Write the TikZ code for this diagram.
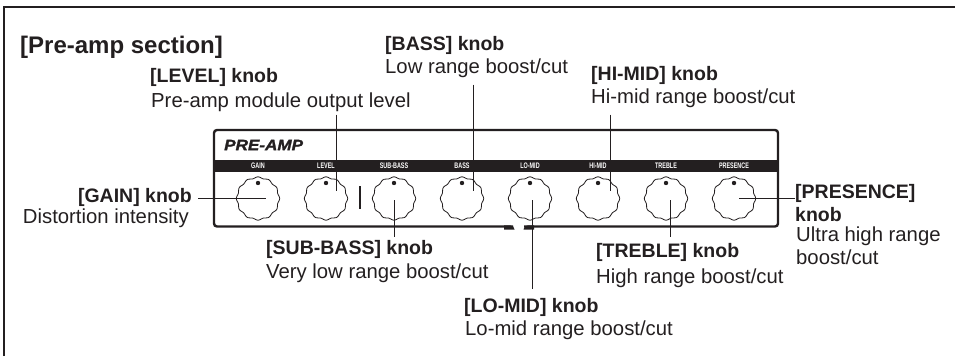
\documentclass[tikz,border=0pt]{standalone}
\usepackage{fontspec}
\setmainfont{Liberation Sans}
\newfontfamily\bandfont[FakeStretch=0.68]{Liberation Sans Bold}
\newfontfamily\panelfont[FakeStretch=1.14,FakeBold=1.5]{Liberation Sans Bold Italic}
\usepackage{xcolor}
\definecolor{inkBlack}{HTML}{231F20}
\usepackage{tikz}
\usetikzlibrary{
    positioning,
    calc
}
\tikzset{
    % Section heading
    section title/.style={
        font=\fontsize{24}{28}\selectfont\bfseries,
        text=inkBlack,
        inner sep=0pt,
        anchor=west,
    },
    % Bold knob name
    knob name/.style={
        font=\fontsize{19.5}{22}\selectfont\bfseries,
        text=inkBlack,
        inner sep=0pt,
        anchor=west,
        align=left,
    },
    % Plain description under the name
    knob desc/.style={
        font=\fontsize{20.3}{21.5}\selectfont,
        text=inkBlack,
        inner sep=0pt,
        anchor=west,
        align=left,
    },
    % White captions on the black band
    band label/.style={
        font=\bandfont\fontsize{8}{9}\selectfont,
        text=white,
        inner sep=0pt,
    },
    % Leader from a label to a knob
    leader/.style={
        draw=inkBlack,
        line width=0.9pt,
    },
}
\begin{document}
\begin{tikzpicture}[x=1pt, y=-1pt]
    \useasboundingbox (0,0) rectangle (955,356);
    % outer frame, top and left only
    \draw [inkBlack, line width=2pt] (4,356) -- (4,7) -- (955,7);

    % panel outline with the gap at the bottom
    \draw [inkBlack, line width=2.4pt, rounded corners=3pt]
        (513,226.5) -- (214,226.5) -- (214,130) -- (778,130) -- (778,226.5) -- (524,226.5);
    \fill [inkBlack] (504,225.3) -- (510,225.3) .. controls (513,225.5) and (514,227) .. (514.5,229.5) -- (504,229.5) -- cycle;
    \fill [inkBlack] (534,225.3) -- (528,225.3) .. controls (525,225.5) and (524,227) .. (523.5,229.5) -- (534,229.5) -- cycle;
    \fill [inkBlack] (214,160) rectangle (778,172);
    \node (panelName) [font=\panelfont\fontsize{15}{15}\selectfont, text=inkBlack, inner sep=0pt, anchor=west] at (224,145) {PRE-AMP};

    % knobs with their captions
    \foreach \cx/\cname/\ctext in {258/gain/GAIN, 326/level/LEVEL, 394/subbass/SUB-BASS, 462/bass/BASS,
                                   530/lomid/LO-MID, 598/himid/HI-MID, 666/treble/TREBLE, 734/presence/PRESENCE} {
        \node (\cname Cap) [band label] at (\cx,166) {\ctext};
        \draw [inkBlack, line width=0.8pt, smooth cycle, samples=96, domain=0:356.25, variable=\t]
            plot ({\cx+(21+0.7*cos(12*\t))*cos(\t)}, {198.5+(21+0.7*cos(12*\t))*sin(\t)});
        \fill [inkBlack] (\cx,183) circle (2.2);
    }
    \draw [inkBlack, line width=1.6pt] (360,186) -- (360,209);

    % labels
    \node (title) [section title] at (20,47) {[Pre-amp section]};

    \node (levelName) [knob name] at (150,77) {[LEVEL] knob};
    \node (levelDesc) [knob desc] at (151,102) {Pre-amp module output level};

    \node (bassName) [knob name] at (385,45) {[BASS] knob};
    \node (bassDesc) [knob desc] at (385,68) {Low range boost/cut};

    \node (himidName) [knob name] at (591,75) {[HI-MID] knob};
    \node (himidDesc) [knob desc] at (591,98) {Hi-mid range boost/cut};

    \node (gainName) [knob name, anchor=east] at (192,197) {[GAIN] knob};
    \node (gainDesc) [knob desc, anchor=east] at (189,218) {Distortion intensity};

    \node (subbassName) [knob name] at (266,249) {[SUB-BASS] knob};
    \node (subbassDesc) [knob desc] at (266,273) {Very low range boost/cut};

    \node (trebleName) [knob name] at (596,252) {[TREBLE] knob};
    \node (trebleDesc) [knob desc] at (596,278) {High range boost/cut};

    \node (lomidName) [knob name] at (464,307) {[LO-MID] knob};
    \node (lomidDesc) [knob desc] at (465,330) {Lo-mid range boost/cut};

    \node (presenceName) [knob name] at (795,193) {[PRESENCE]};
    \node (presenceKnob) [knob name] at (795,215) {knob};
    \node (presenceDesc) [knob desc] at (796,236) {Ultra high range};
    \node (presenceMore) [knob desc] at (796,257) {boost/cut};

    % leaders end inside the knobs
    \coordinate (gainEnd) at (266,198);
    \coordinate (levelEnd) at (336.5,191);
    \coordinate (subbassEnd) at (394,200);
    \coordinate (bassEnd) at (473,191);
    \coordinate (lomidEnd) at (532.5,200);
    \coordinate (himidEnd) at (610,191);
    \coordinate (trebleEnd) at (670,200);
    \coordinate (presenceEnd) at (739,198);

    \draw [leader] (gainEnd -| gainName.east) ++(6,0) -- (gainEnd);
    \draw [leader] (levelEnd |- levelDesc.south) ++(0,3) -- (levelEnd);
    \draw [leader] (bassEnd |- bassDesc.south) ++(0,7) -- (bassEnd);
    \draw [leader] (himidEnd |- himidDesc.south) ++(0,7) -- (himidEnd);
    \draw [leader] (subbassEnd |- subbassName.north) ++(0,-3) -- (subbassEnd);
    \draw [leader] (lomidEnd |- lomidName.north) ++(0,-9) -- (lomidEnd);
    \draw [leader] (trebleEnd |- trebleName.north) ++(0,-6) -- (trebleEnd);
    \draw [leader] (presenceEnd -| presenceName.west) -- (presenceEnd);
\end{tikzpicture}
\end{document}
